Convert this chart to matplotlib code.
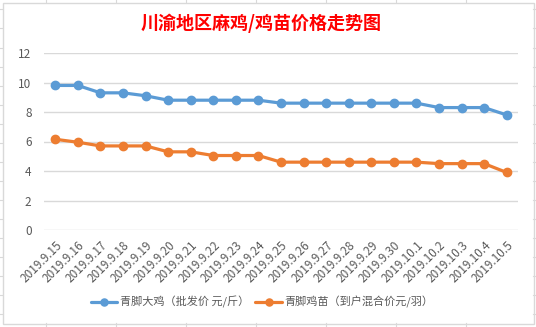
import matplotlib
matplotlib.use("Agg")
import matplotlib.pyplot as plt
from matplotlib.lines import Line2D

plt.rcParams['font.family'] = ['Noto Sans CJK SC', 'DejaVu Sans']

dates = ["2019.9.15", "2019.9.16", "2019.9.17", "2019.9.18", "2019.9.19", "2019.9.20",
         "2019.9.21", "2019.9.22", "2019.9.23", "2019.9.24", "2019.9.25", "2019.9.26",
         "2019.9.27", "2019.9.28", "2019.9.29", "2019.9.30", "2019.10.1", "2019.10.2",
         "2019.10.3", "2019.10.4", "2019.10.5"]
broiler = [9.8, 9.8, 9.3, 9.3, 9.1, 8.8, 8.8, 8.8, 8.8, 8.8, 8.6, 8.6, 8.6, 8.6, 8.6,
           8.6, 8.6, 8.3, 8.3, 8.3, 7.8]
chick = [6.15, 5.95, 5.7, 5.7, 5.7, 5.3, 5.3, 5.05, 5.05, 5.05, 4.6, 4.6, 4.6, 4.6, 4.6,
         4.6, 4.6, 4.5, 4.5, 4.5, 3.9]
series_names = ["青脚大鸡（批发价 元/斤）", "青脚鸡苗（到户混合价元/羽）"]
title = "川渝地区麻鸡/鸡苗价格走势图"
yticks = [0, 2, 4, 6, 8, 10, 12]

W, H = 536, 327
fig = plt.figure(figsize=(W / 100, H / 100), dpi=100)
fig.patch.set_facecolor('white')

def px(x, y):
    return x / W, 1 - y / H

gray = '#D9D9D9'
# spreadsheet cell stubs outside chart
for yy in [9, 28, 48, 67, 86, 105, 124, 143, 162, 181, 200, 219, 238, 257, 276, 295, 314]:
    fig.add_artist(Line2D([0, 2 / W], [1 - yy / H] * 2, color=gray, lw=0.8))
    fig.add_artist(Line2D([533 / W, 1], [1 - yy / H] * 2, color=gray, lw=0.8))
for xx in [46, 116, 186, 256, 326, 396, 466]:
    fig.add_artist(Line2D([xx / W] * 2, [1, 1 - 2 / H], color=gray, lw=0.8))
    fig.add_artist(Line2D([xx / W] * 2, [1 - 323 / H, 0], color=gray, lw=0.8))
# chart border
x0, y0 = px(2.5, 323.5)
x1, y1 = px(533.5, 2.5)
fig.add_artist(plt.Rectangle((x0, y0), x1 - x0, y1 - y0, transform=fig.transFigure,
                             fill=False, ec=gray, lw=1.0))

left, right, top, bottom = 44, 518, 53, 230
ax = fig.add_axes([left / W, 1 - bottom / H, (right - left) / W, (bottom - top) / H])
xs = list(range(len(dates)))
blue, orange = '#5B9BD5', '#ED7D31'
ax.plot(xs, broiler, color=blue, lw=2.3, marker='o', ms=6, label=series_names[0],
        solid_capstyle='round')
ax.plot(xs, chick, color=orange, lw=2.3, marker='o', ms=6, label=series_names[1],
        solid_capstyle='round')
ax.set_xlim(-0.5, len(dates) - 0.5)
ax.set_ylim(0, 12)
ax.set_yticks(yticks)
ax.grid(axis='y', color=gray, lw=1.0)
ax.set_axisbelow(True)
for s in ax.spines.values():
    s.set_visible(False)
ax.tick_params(axis='both', length=0, colors='#595959', labelsize=8.5)
ax.tick_params(axis='y', pad=9)
ax.set_xticks(xs)
ax.set_xticklabels(dates, rotation=45, ha='right', va='top', rotation_mode='anchor')
ax.tick_params(axis='x', pad=6)

fig.text(261 / W, 1 - 23 / H, title, color='#FF0000', fontsize=13, fontweight='bold',
         ha='center', va='center')

handles, labels = ax.get_legend_handles_labels()
fig.legend(handles, labels, loc='center', bbox_to_anchor=(262 / W, 1 - 302 / H), ncol=2,
           frameon=False, fontsize=8, handlelength=2.4, columnspacing=0.6,
           handletextpad=0.2, labelcolor='#595959', markerscale=0.85)

fig.savefig('out.png', dpi=100)
